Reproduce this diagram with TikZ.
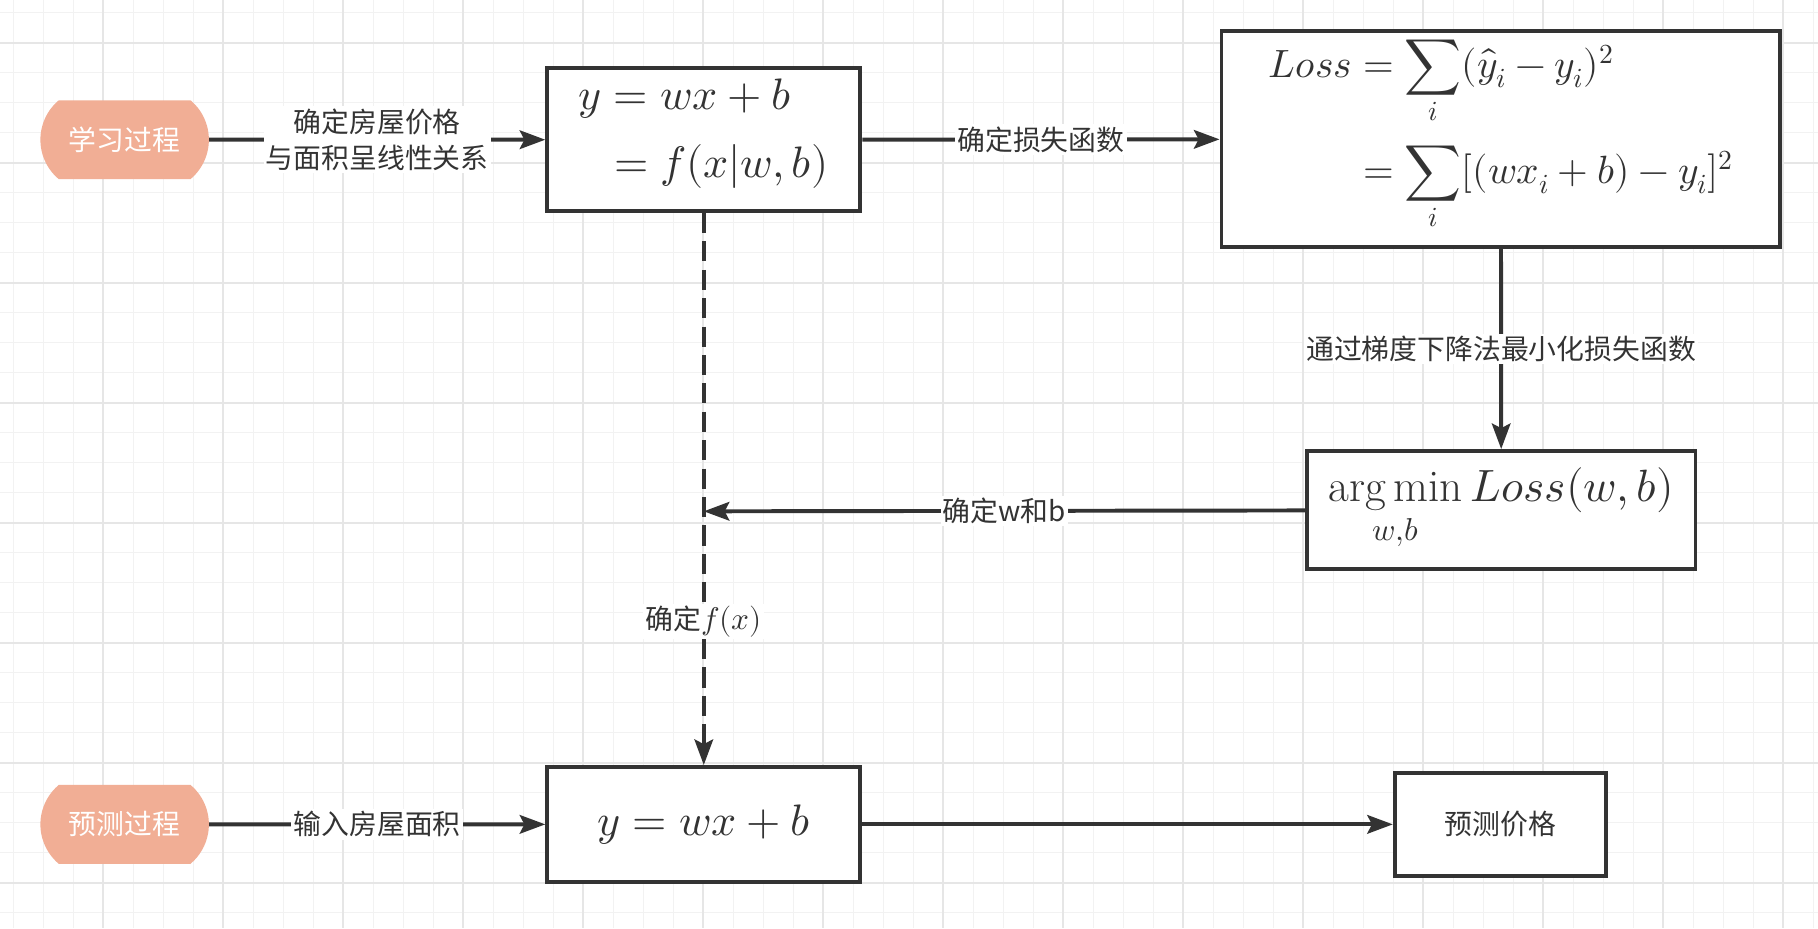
\documentclass[tikz,border=0pt]{standalone}
\usepackage{amsmath}
\usepackage{fontspec}
\usepackage{unicode-math}
\setmathfont{Latin Modern Math}
\newfontfamily\cjk{Noto Sans CJK SC}
\usetikzlibrary{arrows.meta}
\usetikzlibrary{shapes.misc}

\definecolor{linegray}{HTML}{333333}
\definecolor{pillfill}{HTML}{F1AE95}
\definecolor{gridminor}{HTML}{F2F2F2}
\definecolor{gridmajor}{HTML}{E6E6E6}

\tikzset{
	pill/.style={rounded rectangle, rounded rectangle arc length=100, fill=pillfill, minimum width=152pt, minimum height=68pt, text=white, font=\cjk\fontsize{24}{31.6}\selectfont},
	procbox/.style={draw=linegray, line width=3.4pt, fill=white, text=linegray, inner sep=0pt},
	flow/.style={draw=linegray, line width=3.4pt, -{Stealth[length=22pt, width=16pt, inset=4pt]}},
	lbl/.style={fill=white, text=linegray, font=\cjk\fontsize{24}{31.6}\selectfont, inner sep=2pt, align=center},
	gridthin/.style={draw=gridminor, line width=1.2pt},
	gridthick/.style={draw=gridmajor, line width=1.8pt},
}

\begin{document}
\begin{tikzpicture}[x=1pt, y=-1pt]
	\useasboundingbox (0,0) rectangle (1568,800.4);
	\fill[white] (0,0) rectangle (1568,800.4);
	
	% Draw the grid
	\foreach \k in {0,...,60} \draw[gridthin] ({11.5+25.875*\k},0) -- ++(0,800.4);
	\foreach \k in {0,...,30} \draw[gridthin] (0,{11+25.875*\k}) -- ++(1568,0);
	\foreach \k in {0,...,14} \draw[gridthick] ({89.1+103.5*\k},0) -- ++(0,800.4);
	\foreach \k in {0,...,7} \draw[gridthick] (0,{36.8+103.5*\k}) -- ++(1568,0);
	
	% Learning process
	\node[pill] (learn) at (107.5,120.5) {学习过程};
	\node[procbox, minimum width=270pt, minimum height=123pt, font=\fontsize{38}{46}\selectfont] (model) at (607,120.5)
		{\raisebox{6pt}[\height][\depth]{$\begin{aligned} y &= wx+b \\[10pt] &= f(x|w,b) \end{aligned}$}};
	\node[procbox, minimum width=482pt, minimum height=186pt, font=\fontsize{34}{41}\selectfont] (loss) at (1294.5,120)
		{\raisebox{3pt}[\height][\depth]{$\begin{aligned} Loss &= \sum_i (\hat{y}_i - y_i)^2 \\[14pt] &= \sum_i [(wx_i+b) - y_i]^2 \end{aligned}$}};
	\node[procbox, minimum width=335pt, minimum height=102pt, font=\fontsize{39}{46}\selectfont] (argmin) at (1294.8,440)
		{$\mathop{\arg\min}\limits_{w,b} Loss(w,b)$};
	\coordinate (fx) at (607,441);
	
	% Prediction process
	\node[pill] (predict) at (107.5,711) {预测过程};
	\node[procbox, minimum width=270pt, minimum height=99pt, font=\fontsize{38}{46}\selectfont] (fit) at (607,711) {$y = wx+b$};
	\node[procbox, minimum width=182pt, minimum height=89pt, font=\cjk\fontsize{24}{31.6}\selectfont] (price) at (1294,711) {预测价格};
	
	% Draw the connectors
	\draw[flow] (learn) -- node[lbl] {确定房屋价格\\与面积呈线性关系} (model);
	\draw[flow] (model) -- node[lbl] {确定损失函数} (loss);
	\draw[flow] (loss) -- node[lbl] {通过梯度下降法最小化损失函数} (argmin);
	\draw[flow, dash pattern=on 17.3pt off 7.2pt] (model) -- node[lbl, pos=0.74] {确定{\fontsize{27}{32}\selectfont$f(x)$}} (fit);
	\draw[flow] (argmin) -- node[lbl] {确定w和b} (fx);
	\draw[flow] (predict) -- node[lbl] {输入房屋面积} (fit);
	\draw[flow] (fit) -- (price);
\end{tikzpicture}
\end{document}
